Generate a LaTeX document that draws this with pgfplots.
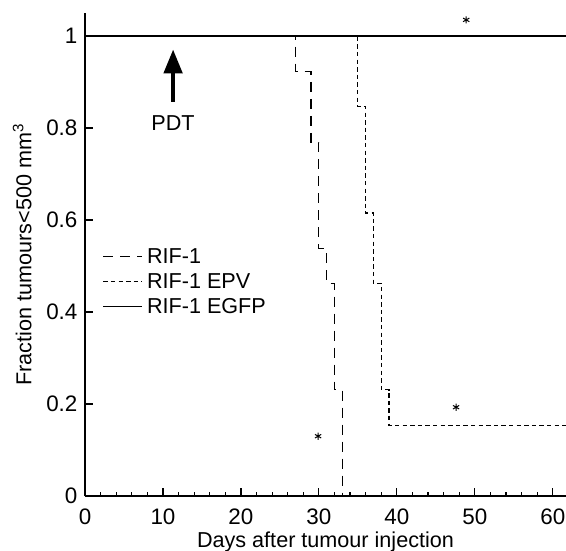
\documentclass[border=0pt]{standalone}
\usepackage{fontspec}
\setmainfont{Liberation Sans}
\usepackage{pgfplots}
\pgfplotsset{compat=1.18}
\usetikzlibrary{arrows.meta}

\begin{document}
\fontsize{10.8}{13}\selectfont
\begin{tikzpicture}
\begin{axis}[
  name=ax,
  scale only axis,
  width=240.5pt, height=241.5pt,
  xmin=0, xmax=61.7, ymin=0, ymax=1.05,
  axis lines=left,
  axis line style={-, line width=0.75pt},
  xtick={0,10,...,60},
  ytick={0,0.2,...,1},
  yticklabels={0,0.2,0.4,0.6,0.8,1},
  minor x tick num=4,
  tick align=inside,
  major tick length=4pt,
  minor tick length=2pt,
  tick style={line width=0.6pt, black},
  /pgf/number format/assume math mode=true,
  ticklabel style={font=\fontsize{11.2}{13}\selectfont},
  xticklabel style={yshift=-2.5pt},
  xlabel={Days after tumour injection},
  ylabel={Fraction tumours<500 mm\textsuperscript{3}},
  xlabel style={yshift=3.5pt},
  legend image code/.code={\draw[#1] (0pt,0pt) -- (19.5pt,0pt);},
  legend style={draw=none, fill=none, at={(axis cs:2.2,0.552)}, anchor=north west,
    inner sep=0pt, row sep=-1.6pt, font=\fontsize{10.8}{13}\selectfont,
    cells={anchor=west, inner sep=0pt, text height=8.5pt, text depth=3.3pt},
    /tikz/every even column/.append style={column sep=7pt}},
  every axis plot/.append style={line width=0.6pt, black},
]

% RIF-1
\addplot[const plot, dash pattern=on 5pt off 3.5pt]
  coordinates {(0,1)(27,0.923)(29,0.769)(30,0.538)(31,0.462)(32,0.231)(33,0)};
\addlegendentry{RIF-1}

% RIF-1 EPV
\addplot[const plot, dash pattern=on 2.2pt off 1.6pt]
  coordinates {(0,1)(35,0.846)(36,0.615)(37,0.462)(38,0.231)(39,0.154)(61.7,0.154)};
\addlegendentry{RIF-1 EPV}

% RIF-1 EGFP
\addplot[solid, line width=0.75pt]
  coordinates {(0,1)(61.7,1)};
\addlegendentry{RIF-1 EGFP}

% significance marks
\addplot[forget plot, only marks, mark=asterisk, mark size=1.8pt, line width=0.5pt]
  coordinates {(48.9,1.035)(29.9,0.13)(47.6,0.193)};

\draw[line width=2.3pt, -{Triangle[length=12pt,width=9pt]}]
  (axis cs:11.3,0.857) -- (axis cs:11.3,0.971);
\node at (axis cs:11.3,0.81) {PDT};
\end{axis}
\pgfresetboundingbox
\path ([xshift=-42.5pt,yshift=-27pt]ax.south west) rectangle ([yshift=6.5pt]ax.north east);
\end{tikzpicture}
\end{document}
